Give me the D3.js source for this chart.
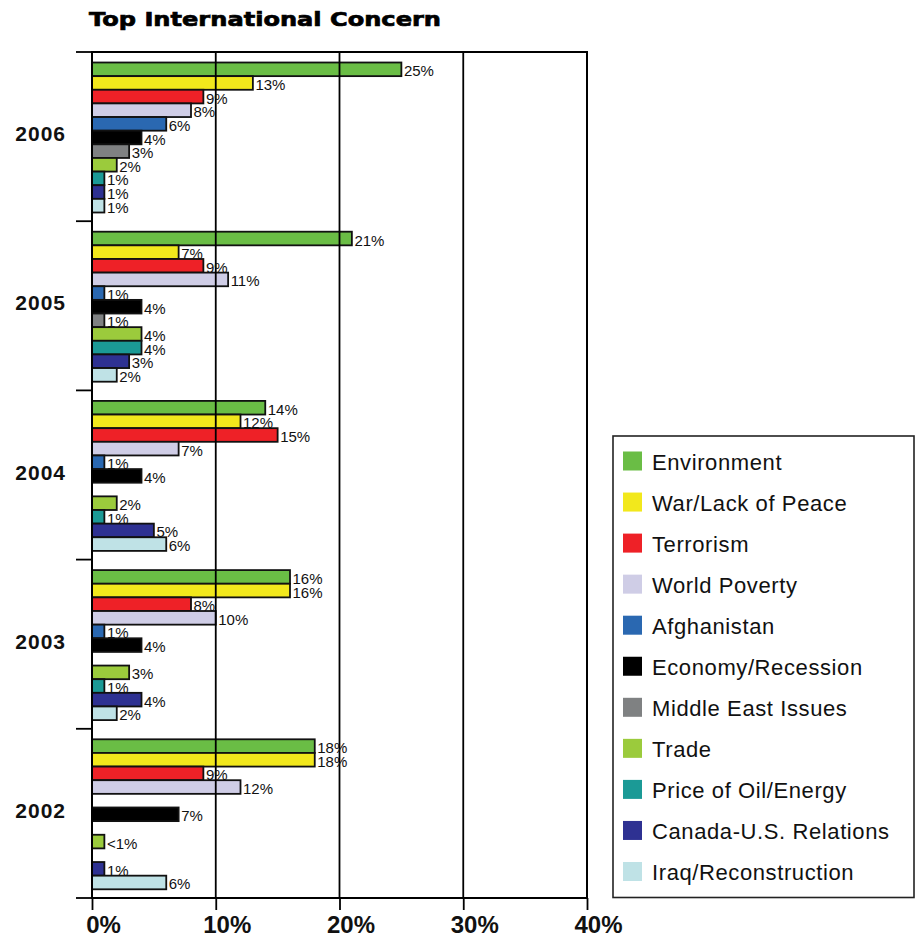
<!DOCTYPE html>
<html>
<head>
<meta charset="utf-8">
<script src="https://cdn.jsdelivr.net/npm/d3@7"></script>
<style>
  html, body { margin: 0; padding: 0; background: #fff; }
  svg { display: block; font-family: "Liberation Sans", Arial, sans-serif; }
</style>
</head>
<body>
<svg id="chart" width="916" height="937"></svg>
<script>
// Survey years, top to bottom
const years = ["2006", "2005", "2004", "2003", "2002"];

// Concern categories, in bar order within each year
const series = [
  "Environment", "War/Lack of Peace", "Terrorism", "World Poverty", "Afghanistan",
  "Economy/Recession", "Middle East Issues", "Trade", "Price of Oil/Energy",
  "Canada-U.S. Relations", "Iraq/Reconstruction"
];

const colors = [
  "#6abd45", "#f2e81c", "#ee2127", "#cfcde6", "#2a68b1",
  "#000000", "#7f8182", "#9bcb3c", "#1b9a96", "#2e3192", "#bfe2e6"
];

// Percent naming each concern, one array per year (null = not reported)
const values2006 = [25, 13, 9, 8, 6, 4, 3, 2, 1, 1, 1];
const values2005 = [21, 7, 9, 11, 1, 4, 1, 4, 4, 3, 2];
const values2004 = [14, 12, 15, 7, 1, 4, null, 2, 1, 5, 6];
const values2003 = [16, 16, 8, 10, 1, 4, null, 3, 1, 4, 2];
const values2002 = [18, 18, 9, 12, null, 7, null, 1, null, 1, 6];

// Labels that differ from the plain "n%" form
const labelOverrides = { "2002|Trade": "<1%" };

const xTicks = [0, 10, 20, 30, 40];

const valuesByYear = {
  "2006": values2006, "2005": values2005, "2004": values2004,
  "2003": values2003, "2002": values2002
};

const rows = [];
years.forEach(yr => {
  valuesByYear[yr].forEach((v, i) => {
    if (v !== null) rows.push({ year: yr, key: series[i], value: v, color: colors[i] });
  });
});

const svg = d3.select("#chart");
svg.append("rect").attr("width", 916).attr("height", 937).attr("fill", "#fff");

const x = d3.scaleLinear().domain([0, 40]).range([92, 587]);
const y = d3.scaleBand().domain(years).range([52, 898]);
const yInner = d3.scaleBand().domain(series).range([10.5, y.bandwidth() - 8.7]);

// Title
svg.append("text")
  .attr("x", 89).attr("y", 26)
  .attr("font-family", "DejaVu Sans, sans-serif")
  .attr("font-weight", "bold")
  .attr("font-size", 20)
  .attr("stroke", "#000").attr("stroke-width", 0.7)
  .attr("textLength", 352)
  .attr("lengthAdjust", "spacingAndGlyphs")
  .text("Top International Concern");

// Bars
const bars = svg.append("g");
bars.selectAll("rect")
  .data(rows)
  .join("rect")
  .attr("x", x(0))
  .attr("y", d => y(d.year) + yInner(d.key))
  .attr("width", d => x(d.value) - x(0))
  .attr("height", yInner.bandwidth())
  .attr("fill", d => d.color)
  .attr("stroke", "#111")
  .attr("stroke-width", 1.8);

// Vertical gridlines drawn over the bars
svg.append("g")
  .selectAll("line")
  .data(xTicks.slice(1, -1))
  .join("line")
  .attr("x1", d => x(d)).attr("x2", d => x(d))
  .attr("y1", y.range()[0]).attr("y2", y.range()[1])
  .attr("stroke", "#000").attr("stroke-width", 1.8);

// Plot frame
svg.append("rect")
  .attr("x", x(0)).attr("y", y.range()[0])
  .attr("width", x(40) - x(0)).attr("height", y.range()[1] - y.range()[0])
  .attr("fill", "none").attr("stroke", "#000").attr("stroke-width", 2);

// Value labels
svg.append("g")
  .selectAll("text")
  .data(rows)
  .join("text")
  .attr("x", d => x(d.value) + 2.5)
  .attr("y", d => y(d.year) + yInner(d.key) + yInner.bandwidth() / 2 + 7)
  .attr("font-size", 15)
  .attr("fill", "#111")
  .text(d => labelOverrides[d.year + "|" + d.key] || (d.value + "%"));

// Bottom axis
const xAxis = svg.append("g")
  .attr("transform", `translate(0,${y.range()[1]})`)
  .call(d3.axisBottom(x).tickValues(xTicks).tickFormat(d => d + "%").tickSize(12).tickSizeOuter(0));
xAxis.select(".domain").remove();
xAxis.selectAll(".tick line").attr("stroke", "#000").attr("stroke-width", 1.8);
xAxis.selectAll(".tick text")
  .attr("y", 34.5).attr("dy", 0).attr("dx", 11)
  .attr("font-size", 24).attr("font-weight", "bold")
  .attr("font-family", "Liberation Sans, Arial, sans-serif")
  .attr("fill", "#111");

// Left axis: year labels at band centres, ticks at band boundaries
const yAxis = svg.append("g")
  .attr("transform", `translate(${x(0)},0)`)
  .call(d3.axisLeft(y).tickSize(0).tickPadding(26));
yAxis.select(".domain").remove();
yAxis.selectAll(".tick text")
  .attr("dy", "0.22em")
  .attr("font-size", 21).attr("font-weight", "bold")
  .attr("letter-spacing", 1)
  .attr("font-family", "Liberation Sans, Arial, sans-serif")
  .attr("fill", "#111");

const boundaries = years.map(d => y(d)).concat([y.range()[1]]);
svg.append("g")
  .selectAll("line")
  .data(boundaries)
  .join("line")
  .attr("x1", x(0) - 16).attr("x2", x(0))
  .attr("y1", d => d).attr("y2", d => d)
  .attr("stroke", "#000").attr("stroke-width", 1.8);

// Legend
const legend = svg.append("g");
legend.append("rect")
  .attr("x", 613).attr("y", 436).attr("width", 301).attr("height", 461.5)
  .attr("fill", "#fff").attr("stroke", "#222").attr("stroke-width", 1.6);

const ly = d3.scalePoint().domain(series).range([461, 871.5]);
const items = legend.selectAll("g.item")
  .data(series.map((s, i) => ({ key: s, color: colors[i] })))
  .join("g").attr("class", "item")
  .attr("transform", d => `translate(0,${ly(d.key)})`);
items.append("rect")
  .attr("x", 623).attr("y", -9.5).attr("width", 19).attr("height", 19)
  .attr("fill", d => d.color);
items.append("text")
  .attr("x", 652).attr("y", 8.5)
  .attr("font-size", 22).attr("letter-spacing", 0.6)
  .attr("fill", "#111")
  .text(d => d.key);
</script>
</body>
</html>
